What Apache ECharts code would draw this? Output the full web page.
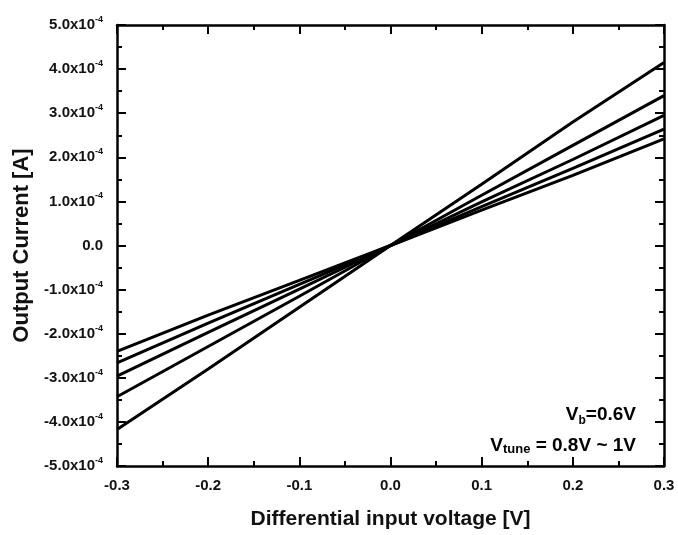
<!DOCTYPE html>
<html>
<head>
<meta charset="utf-8">
<script src="https://cdn.jsdelivr.net/npm/echarts@6/dist/echarts.min.js"></script>
<style>
  html, body { margin: 0; padding: 0; background: #fff; }
  #chart { width: 678px; height: 535px; }
</style>
</head>
<body>
<div id="chart"></div>
<script>
// differential input voltage [V]
var voltage = [-0.3, -0.2, -0.1, 0.0, 0.1, 0.2, 0.3];
// output current, in units of 1e-4 A, one curve per Vtune
var curve1 = [-4.17, -2.80, -1.40, 0, 1.39, 2.80, 4.15];
var curve2 = [-3.43, -2.29, -1.15, 0, 1.14, 2.27, 3.40];
var curve3 = [-2.96, -1.97, -0.99, 0, 0.99, 1.95, 2.95];
var curve4 = [-2.66, -1.76, -0.88, 0, 0.88, 1.75, 2.64];
var curve5 = [-2.40, -1.58, -0.79, 0, 0.80, 1.59, 2.42];
var curves = [curve1, curve2, curve3, curve4, curve5];

var FONT = 'Liberation Sans, Arial, sans-serif';

function pairs(ys) {
    return voltage.map(function (x, i) { return [x, ys[i]]; });
}

var myChart = echarts.init(document.getElementById('chart'));

var axisLine = { show: true, onZero: false, lineStyle: { color: '#000', width: 2.5 } };
var majorTick = { show: true, inside: true, length: 9, lineStyle: { color: '#000', width: 2 } };
var minorTick = { show: true, splitNumber: 2, length: 5, lineStyle: { color: '#000', width: 2 } };

option = {
    backgroundColor: '#fff',
    animation: false,
    grid: { left: 117, right: 14, top: 25, bottom: 65 },
    xAxis: [
        {
            type: 'value', min: -0.3, max: 0.3, interval: 0.1,
            name: 'Differential input voltage [V]',
            nameLocation: 'middle', nameGap: 43,
            nameTextStyle: { fontFamily: FONT, fontWeight: 'bold', fontSize: 21, color: '#111' },
            axisLine: axisLine,
            axisTick: majorTick,
            minorTick: minorTick,
            splitLine: { show: false },
            axisLabel: {
                margin: 12, fontFamily: FONT, fontWeight: 'bold', fontSize: 15, color: '#111',
                formatter: function (v) { return v.toFixed(1); }
            }
        },
        {
            type: 'value', position: 'top', min: -0.3, max: 0.3, interval: 0.1,
            axisLine: axisLine,
            axisTick: majorTick,
            minorTick: minorTick,
            splitLine: { show: false },
            axisLabel: { show: false }
        }
    ],
    yAxis: [
        {
            type: 'value', min: -5, max: 5, interval: 1,
            name: 'Output Current [A]',
            nameLocation: 'middle', nameGap: 84, nameRotate: 90,
            nameTextStyle: { fontFamily: FONT, fontWeight: 'bold', fontSize: 22, color: '#111' },
            axisLine: axisLine,
            axisTick: majorTick,
            minorTick: minorTick,
            splitLine: { show: false },
            axisLabel: {
                margin: 14,
                formatter: function (v) {
                    if (Math.abs(v) < 1e-9) return '{m|0.0}';
                    return '{m|' + v.toFixed(1) + 'x10}{s|-4}';
                },
                rich: {
                    m: { fontFamily: FONT, fontWeight: 'bold', fontSize: 15, color: '#111' },
                    s: { fontFamily: FONT, fontWeight: 'bold', fontSize: 9, color: '#111', padding: [0, 0, 11, 0] }
                }
            }
        },
        {
            type: 'value', position: 'right', min: -5, max: 5, interval: 1,
            axisLine: axisLine,
            axisTick: majorTick,
            minorTick: minorTick,
            splitLine: { show: false },
            axisLabel: { show: false }
        }
    ],
    series: curves.map(function (c, i) {
        return {
            name: 'curve' + (i + 1),
            type: 'line',
            data: pairs(c),
            showSymbol: false,
            symbol: 'none',
            lineStyle: { color: '#000', width: 3 }
        };
    }),
    graphic: [
        {
            type: 'text', right: 42, top: 405,
            style: {
                text: '{v|V}{sub|b}{v|=0.6V}',
                align: 'right',
                rich: {
                    v: { fontFamily: FONT, fontWeight: 'bold', fontSize: 19, color: '#111' },
                    sub: { fontFamily: FONT, fontWeight: 'bold', fontSize: 12, color: '#111', padding: [12, 0, 0, 0] }
                }
            }
        },
        {
            type: 'text', right: 42, top: 436,
            style: {
                text: '{v|V}{sub|tune}{v| = 0.8V ~ 1V}',
                align: 'right',
                rich: {
                    v: { fontFamily: FONT, fontWeight: 'bold', fontSize: 19, color: '#111' },
                    sub: { fontFamily: FONT, fontWeight: 'bold', fontSize: 13, color: '#111', padding: [8, 0, 0, 0] }
                }
            }
        }
    ]
};

myChart.setOption(option);
window.addEventListener("resize", function () {
    myChart.resize();
});
</script>
</body>
</html>
